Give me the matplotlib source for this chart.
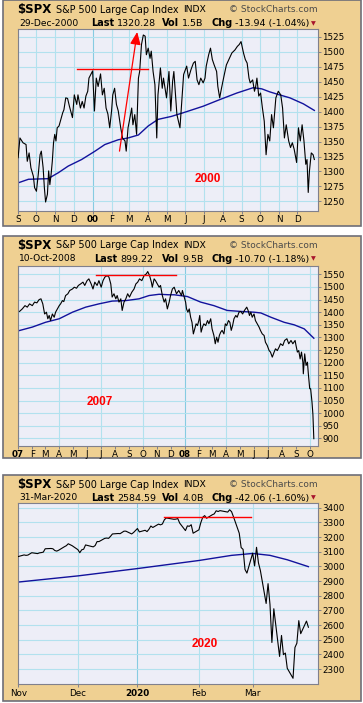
import numpy as np
import pandas as pd
import matplotlib
matplotlib.use('Agg')
import matplotlib.pyplot as plt
from matplotlib.patches import Rectangle
from matplotlib.offsetbox import TextArea, HPacker, AnnotationBbox

plt.rcParams['font.family'] = ['DejaVu Sans']

W, H = 363, 703

# ---------------- data: 1999-2000 ----------------
p1_dates = """1999-09-01 1999-09-04 1999-09-09 1999-09-14 1999-09-16 1999-09-19 1999-09-22 1999-09-26
1999-09-28 1999-10-01 1999-10-04 1999-10-07 1999-10-09 1999-10-12 1999-10-14 1999-10-16 1999-10-19
1999-10-21 1999-10-23 1999-10-25 1999-10-27 1999-10-29 1999-10-31 1999-11-02 1999-11-04 1999-11-07
1999-11-10 1999-11-13 1999-11-15 1999-11-18 1999-11-21 1999-11-24 1999-11-29 1999-12-02 1999-12-06
1999-12-08 1999-12-12 1999-12-15 1999-12-18 1999-12-21 1999-12-24 1999-12-26 1999-12-29 2000-01-01
2000-01-04 2000-01-07 2000-01-10 2000-01-14 2000-01-17 2000-01-20 2000-01-23 2000-01-26 2000-01-29
2000-02-01 2000-02-03 2000-02-06 2000-02-09 2000-02-12 2000-02-16 2000-02-19 2000-02-23 2000-02-25
2000-02-28 2000-03-02 2000-03-05 2000-03-07 2000-03-10 2000-03-13 2000-03-16 2000-03-18 2000-03-21
2000-03-24 2000-03-27 2000-03-29 2000-04-01 2000-04-04 2000-04-06 2000-04-09 2000-04-12 2000-04-15
2000-04-17 2000-04-21 2000-04-24 2000-04-26 2000-05-01 2000-05-05 2000-05-08 2000-05-11 2000-05-13
2000-05-18 2000-05-23 2000-05-26 2000-05-29 2000-06-03 2000-06-06 2000-06-10 2000-06-14 2000-06-17
2000-06-20 2000-06-23 2000-06-26 2000-06-30 2000-07-03 2000-07-05 2000-07-09 2000-07-12 2000-07-15
2000-07-18 2000-07-22 2000-07-24 2000-07-27 2000-07-30 2000-08-03 2000-08-07 2000-08-12 2000-08-16
2000-08-21 2000-08-25 2000-08-28 2000-08-31 2000-09-04 2000-09-07 2000-09-10 2000-09-13 2000-09-15
2000-09-19 2000-09-22 2000-09-24 2000-09-26 2000-09-29 2000-10-02 2000-10-05 2000-10-08 2000-10-11
2000-10-14 2000-10-17 2000-10-20 2000-10-23 2000-10-27 2000-10-31 2000-11-04 2000-11-07 2000-11-10
2000-11-13 2000-11-17 2000-11-20 2000-11-23 2000-11-26 2000-11-30 2000-12-03 2000-12-06 2000-12-09
2000-12-12 2000-12-15 2000-12-17 2000-12-19 2000-12-21 2000-12-24 2000-12-27 2000-12-29""".split()
p1_close = [1323, 1356, 1348, 1345, 1317, 1331, 1306, 1292,
            1273, 1267, 1295, 1328, 1334, 1306, 1273, 1249, 1262,
            1301, 1278, 1295, 1317, 1348, 1362, 1351, 1373, 1376,
            1387, 1398, 1403, 1423, 1422, 1409, 1390, 1428, 1412,
            1428, 1406, 1417, 1406, 1426, 1434, 1456, 1462, 1468,
            1401, 1456, 1442, 1463, 1428, 1439, 1406, 1396, 1373,
            1401, 1428, 1439, 1412, 1401, 1373, 1356, 1351, 1334,
            1373, 1389, 1406, 1378, 1395, 1362, 1456, 1467, 1512,
            1528, 1526, 1495, 1506, 1489, 1501, 1467, 1445, 1356,
            1428, 1473, 1439, 1456, 1423, 1467, 1401, 1451, 1467,
            1395, 1373, 1417, 1462, 1476, 1456, 1470, 1481, 1484,
            1453, 1445, 1456, 1448, 1456, 1476, 1495, 1506, 1487,
            1478, 1467, 1442, 1423, 1439, 1459, 1478, 1489, 1498,
            1503, 1509, 1512, 1517, 1498, 1487, 1481, 1456, 1448,
            1453, 1434, 1442, 1456, 1426, 1431, 1406, 1384, 1328,
            1362, 1351, 1395, 1373, 1423, 1434, 1428, 1406, 1356,
            1378, 1351, 1340, 1348, 1337, 1315, 1373, 1351, 1378,
            1351, 1312, 1320, 1265, 1301, 1331, 1328, 1320]
p1_ma_dates = """1999-09-01 1999-09-18 1999-10-20 1999-11-06 1999-11-22 1999-12-14 2000-01-05 2000-01-21
2000-02-12 2000-02-28 2000-03-16 2000-04-01 2000-04-17 2000-05-09 2000-05-28 2000-06-30 2000-07-27
2000-08-24 2000-09-20 2000-10-04 2000-10-17 2000-11-02 2000-11-19 2000-12-11 2000-12-29""".split()
p1_ma = [1281, 1287, 1288, 1298, 1309, 1320, 1334, 1345,
         1353, 1356, 1361, 1376, 1387, 1392, 1398, 1409, 1420,
         1431, 1440, 1438, 1433, 1428, 1423, 1413, 1402]
p1_res_dates = ['1999-12-07', '2000-03-31']
p1_res_level = 1471
p1_arrow_dates = ['2000-02-14', '2000-03-14']
p1_arrow_vals = [1334, 1533]

# ---------------- data: 2007-2008 ----------------
p2_dates = """2007-01-04 2007-01-10 2007-01-16 2007-01-21 2007-01-26 2007-02-01 2007-02-06 2007-02-11
2007-02-16 2007-02-20 2007-02-24 2007-02-28 2007-03-04 2007-03-07 2007-03-10 2007-03-13 2007-03-17
2007-03-21 2007-03-24 2007-03-28 2007-04-01 2007-04-04 2007-04-08 2007-04-11 2007-04-15 2007-04-20
2007-04-24 2007-04-30 2007-05-04 2007-05-09 2007-05-13 2007-05-18 2007-05-23 2007-05-27 2007-06-01
2007-06-05 2007-06-10 2007-06-14 2007-06-18 2007-06-23 2007-06-27 2007-07-02 2007-07-06 2007-07-10
2007-07-15 2007-07-19 2007-07-23 2007-07-26 2007-07-30 2007-08-03 2007-08-06 2007-08-10 2007-08-14
2007-08-17 2007-08-21 2007-08-25 2007-08-29 2007-09-02 2007-09-07 2007-09-12 2007-09-16 2007-09-20
2007-09-24 2007-09-29 2007-10-04 2007-10-09 2007-10-12 2007-10-16 2007-10-20 2007-10-22 2007-10-26
2007-10-29 2007-11-02 2007-11-06 2007-11-09 2007-11-13 2007-11-17 2007-11-20 2007-11-24 2007-11-28
2007-12-01 2007-12-05 2007-12-09 2007-12-14 2007-12-19 2007-12-25 2007-12-27 2007-12-30 2008-01-03
2008-01-05 2008-01-08 2008-01-11 2008-01-14 2008-01-17 2008-01-20 2008-01-23 2008-01-26 2008-01-29
2008-02-01 2008-02-03 2008-02-06 2008-02-09 2008-02-12 2008-02-16 2008-02-20 2008-02-23 2008-02-27
2008-03-01 2008-03-05 2008-03-08 2008-03-11 2008-03-14 2008-03-17 2008-03-20 2008-03-23 2008-03-27
2008-03-30 2008-04-02 2008-04-06 2008-04-09 2008-04-12 2008-04-15 2008-04-18 2008-04-22 2008-04-25
2008-04-29 2008-05-03 2008-05-07 2008-05-11 2008-05-16 2008-05-19 2008-05-22 2008-05-25 2008-05-28
2008-06-01 2008-06-04 2008-06-08 2008-06-12 2008-06-15 2008-06-19 2008-06-23 2008-06-26 2008-06-30
2008-07-04 2008-07-07 2008-07-11 2008-07-15 2008-07-18 2008-07-22 2008-07-26 2008-07-29 2008-08-03
2008-08-07 2008-08-12 2008-08-16 2008-08-21 2008-08-25 2008-08-30 2008-09-01 2008-09-04 2008-09-07
2008-09-10 2008-09-13 2008-09-16 2008-09-17 2008-09-20 2008-09-23 2008-09-26 2008-09-28 2008-10-01
2008-10-03 2008-10-06 2008-10-08 2008-10-10""".split()
p2_close = [1403, 1413, 1426, 1420, 1433, 1426, 1440, 1437,
            1450, 1453, 1433, 1393, 1400, 1374, 1387, 1367, 1393,
            1380, 1400, 1413, 1426, 1433, 1446, 1442, 1466, 1473,
            1486, 1492, 1499, 1495, 1506, 1512, 1519, 1506, 1525,
            1532, 1512, 1492, 1519, 1506, 1525, 1499, 1525, 1539,
            1545, 1539, 1512, 1460, 1473, 1453, 1466, 1440, 1453,
            1407, 1440, 1453, 1473, 1460, 1479, 1492, 1512, 1519,
            1532, 1525, 1545, 1552, 1561, 1545, 1519, 1499, 1532,
            1525, 1512, 1499, 1506, 1466, 1440, 1453, 1413, 1440,
            1466, 1492, 1499, 1473, 1486, 1466, 1486, 1466, 1440,
            1413, 1400, 1413, 1380, 1360, 1314, 1334, 1354, 1347,
            1367, 1387, 1321, 1341, 1354, 1347, 1367, 1354, 1374,
            1334, 1308, 1275, 1301, 1281, 1308, 1321, 1328, 1314,
            1354, 1347, 1367, 1360, 1328, 1347, 1374, 1387, 1380,
            1400, 1403, 1393, 1407, 1420, 1407, 1387, 1400, 1380,
            1393, 1367, 1354, 1341, 1328, 1314, 1308, 1281, 1268,
            1248, 1242, 1222, 1242, 1255, 1248, 1262, 1275, 1268,
            1288, 1295, 1275, 1288, 1275, 1288, 1268, 1242, 1248,
            1215, 1242, 1202, 1156, 1235, 1189, 1202, 1156, 1097,
            1097, 1044, 995, 899]
p2_ma_dates = """2007-01-03 2007-02-01 2007-03-02 2007-04-01 2007-04-30 2007-05-29 2007-06-27 2007-07-26
2007-08-25 2007-09-23 2007-10-15 2007-11-06 2007-11-28 2007-12-09 2008-01-07 2008-02-05 2008-03-05
2008-04-03 2008-05-03 2008-06-01 2008-06-16 2008-07-08 2008-08-06 2008-08-28 2008-09-19 2008-10-10""".split()
p2_ma = [1327, 1341, 1360, 1374, 1400, 1420, 1433, 1444,
         1446, 1453, 1466, 1471, 1469, 1469, 1462, 1440, 1426,
         1407, 1403, 1400, 1397, 1380, 1360, 1350, 1334, 1297]
p2_res_dates = ['2007-06-20', '2007-12-12']
p2_res_level = 1546

# ---------------- data: 2019-2020 ----------------
p3_dates = """2019-11-01 2019-11-04 2019-11-05 2019-11-06 2019-11-07 2019-11-08 2019-11-11 2019-11-12
2019-11-13 2019-11-14 2019-11-15 2019-11-18 2019-11-19 2019-11-20 2019-11-21 2019-11-22 2019-11-25
2019-11-26 2019-11-27 2019-11-29 2019-12-02 2019-12-03 2019-12-04 2019-12-05 2019-12-06 2019-12-09
2019-12-10 2019-12-11 2019-12-12 2019-12-13 2019-12-16 2019-12-17 2019-12-18 2019-12-19 2019-12-20
2019-12-23 2019-12-24 2019-12-26 2019-12-27 2019-12-30 2019-12-31 2020-01-02 2020-01-03 2020-01-06
2020-01-07 2020-01-08 2020-01-09 2020-01-10 2020-01-13 2020-01-14 2020-01-15 2020-01-16 2020-01-17
2020-01-21 2020-01-22 2020-01-23 2020-01-24 2020-01-27 2020-01-28 2020-01-29 2020-01-30 2020-01-31
2020-02-03 2020-02-04 2020-02-05 2020-02-06 2020-02-07 2020-02-10 2020-02-11 2020-02-12 2020-02-13
2020-02-14 2020-02-18 2020-02-19 2020-02-20 2020-02-21 2020-02-24 2020-02-25 2020-02-26 2020-02-27
2020-02-28 2020-03-02 2020-03-03 2020-03-04 2020-03-05 2020-03-06 2020-03-09 2020-03-10 2020-03-11
2020-03-12 2020-03-13 2020-03-16 2020-03-17 2020-03-18 2020-03-19 2020-03-20 2020-03-23 2020-03-24
2020-03-25 2020-03-26 2020-03-27 2020-03-30 2020-03-31""".split()
p3_close = [3067, 3078, 3075, 3077, 3085, 3093, 3087, 3092,
            3094, 3097, 3120, 3122, 3120, 3108, 3104, 3110, 3134,
            3141, 3154, 3141, 3114, 3093, 3113, 3117, 3146, 3136,
            3133, 3142, 3169, 3169, 3191, 3193, 3191, 3205, 3221,
            3224, 3223, 3240, 3240, 3221, 3231, 3258, 3235, 3246,
            3237, 3253, 3275, 3265, 3288, 3283, 3289, 3317, 3330,
            3321, 3322, 3326, 3295, 3244, 3276, 3273, 3284, 3226,
            3249, 3298, 3335, 3346, 3328, 3352, 3358, 3379, 3374,
            3380, 3370, 3386, 3373, 3338, 3226, 3128, 3116, 2979,
            2954, 3090, 3003, 3130, 3024, 2972, 2747, 2882, 2741,
            2481, 2711, 2386, 2529, 2398, 2409, 2305, 2237, 2447,
            2476, 2630, 2541, 2627, 2585]
p3_ma_dates = """2019-11-01 2019-12-02 2020-01-02 2020-02-03 2020-02-20 2020-03-02 2020-03-11 2020-03-20
2020-03-31""".split()
p3_ma = [2893, 2935, 2985, 3040, 3075, 3088, 3075, 3045, 2998]
p3_res_dates = ['2020-01-16', '2020-03-01']
p3_res_level = 3335

# tick labels
p1_months = pd.date_range('1999-09-01', '2000-12-01', freq='MS')
p1_labels = ['S', 'O', 'N', 'D', '00', 'F', 'M', 'A', 'M', 'J', 'J', 'A', 'S', 'O', 'N', 'D']
p2_months = pd.date_range('2007-01-01', '2008-10-01', freq='MS')
p2_labels = ['07', 'F', 'M', 'A', 'M', 'J', 'J', 'A', 'S', 'O', 'N', 'D',
             '08', 'F', 'M', 'A', 'M', 'J', 'J', 'A', 'S', 'O']
p3_months = pd.to_datetime(['2019-11-01', '2019-12-02', '2020-01-02', '2020-02-03', '2020-03-02'])
p3_labels = ['Nov', 'Dec', '2020', 'Feb', 'Mar']
year_labels = ['00', '07', '08', '2020']

headers = [
    ('29-Dec-2000', '1320.28', '1.5B', '-13.94 (-1.04%)'),
    ('10-Oct-2008', '899.22', '9.5B', '-10.70 (-1.18%)'),
    ('31-Mar-2020', '2584.59', '4.0B', '-42.06 (-1.60%)'),
]

TAN = '#EFD092'
FACE = '#EDEEF7'
GRID = '#B2E1EE'
GRID_DARK = '#86CBE2'
BORDER = '#6E6E78'
SPINE = '#80808C'


def fx(x):
    return x / W


def fy(y):
    return 1 - y / H


def d64(s):
    return np.array(s, dtype='datetime64[m]')


fig = plt.figure(figsize=(W / 100, H / 100), dpi=100)
fig.patch.set_facecolor('white')

panels = [
    dict(box=(0.5, 225.5), plot=(29, 211), dates=p1_dates, close=p1_close,
         ma_dates=p1_ma_dates, ma=p1_ma, res_dates=p1_res_dates, res=p1_res_level,
         xlim=('1999-08-31T20:00', '2001-01-04T00:00'), ylim=(1234, 1538),
         yticks=np.arange(1250, 1526, 25), months=p1_months, labels=p1_labels,
         vgrid=p1_months, tag='2000', tag_pos=(0.633, 0.177), xpad=0.6),
    dict(box=(236, 457.5), plot=(266, 446), dates=p2_dates, close=p2_close,
         ma_dates=p2_ma_dates, ma=p2_ma, res_dates=p2_res_dates, res=p2_res_level,
         xlim=('2006-12-31T16:00', '2008-10-19T04:00'), ylim=(870, 1583),
         yticks=np.arange(900, 1551, 50), months=p2_months, labels=p2_labels,
         vgrid=p2_months[::3], tag='2007', tag_pos=(0.271, 0.244), xpad=0.8),
    dict(box=(475, 700.5), plot=(503, 684), dates=p3_dates, close=p3_close,
         ma_dates=p3_ma_dates, ma=p3_ma, res_dates=p3_res_dates, res=p3_res_level,
         xlim=('2019-10-31T20:00', '2020-04-05T00:00'), ylim=(2198, 3432),
         yticks=np.arange(2300, 3401, 100), months=p3_months, labels=p3_labels,
         vgrid=p3_months[1:], tag='2020', tag_pos=(0.623, 0.221), xpad=1.8),
]

for i, p in enumerate(panels):
    top, bot = p['box']
    fig.add_artist(Rectangle((fx(2.5), fy(bot)), fx(361) - fx(2.5), fy(top) - fy(bot),
                             transform=fig.transFigure, facecolor=TAN,
                             edgecolor=BORDER, lw=1.2, zorder=-1))

    # header
    date, last, vol, chg = headers[i]
    y1 = top + 9.5
    y2 = top + 22.7
    fig.text(fx(17.5), fy(y1), '$SPX', fontsize=8.5, fontweight='bold', va='center')
    fig.text(fx(56), fy(y1), 'S&P 500 Large Cap Index', fontsize=6.9, va='center')
    fig.text(fx(183.5), fy(y1), 'INDX', fontsize=6.7, va='center')
    fig.text(fx(229), fy(y1), '\u00a9 StockCharts.com', fontsize=6.5, va='center', color='#4A4A4A')
    fig.text(fx(19), fy(y2), date, fontsize=6.6, va='center')
    for lab, val, xpos, align in [('Last', last, 123.3, 0.5), ('Vol', vol, 162, 0.0),
                                  ('Chg', chg, 211, 0.0)]:
        box = HPacker(children=[TextArea(lab, textprops=dict(fontsize=7, fontweight='bold')),
                                TextArea(val, textprops=dict(fontsize=6.8))],
                      align='baseline', pad=0, sep=2.2)
        fig.add_artist(AnnotationBbox(box, (fx(xpos), fy(y2)), xycoords='figure fraction',
                                      frameon=False, box_alignment=(align, 0.5), pad=0))
    fig.text(fx(313.5), fy(y2 + 0.5), '\u25bc', fontsize=4.5, color='#A8142C',
             ha='center', va='center')

    # chart
    ptop, pbot = p['plot']
    ax = fig.add_axes([fx(18), fy(pbot), fx(318) - fx(18), fy(ptop) - fy(pbot)])
    ax.set_facecolor(FACE)
    ax.set_xlim(d64(p['xlim'][0]), d64(p['xlim'][1]))
    ax.set_ylim(*p['ylim'])
    ax.set_axisbelow(True)
    ax.grid(axis='y', color=GRID, lw=0.8)
    for m in p['vgrid']:
        ax.axvline(m, color=GRID_DARK if m.month == 1 else GRID, lw=0.8, zorder=0.5)

    ax.plot(d64(p['ma_dates']), p['ma'], color='#12129C', lw=1.0, zorder=2)
    ax.plot(d64(p['dates']), p['close'], color='black', lw=0.8, zorder=3)
    ax.plot(d64(p['res_dates']), [p['res'], p['res']], color='red', lw=1.0, zorder=4)
    if i == 0:
        a = d64(p1_arrow_dates)
        ax.annotate('', xy=(a[1], p1_arrow_vals[1]), xytext=(a[0], p1_arrow_vals[0]),
                    arrowprops=dict(arrowstyle='-|>,head_length=0.75,head_width=0.32',
                                    color='red', lw=0.9, shrinkA=0, shrinkB=0),
                    zorder=5)

    ax.text(p['tag_pos'][0], p['tag_pos'][1], p['tag'], transform=ax.transAxes,
            color='red', fontsize=8.5, fontweight='bold', family='Liberation Sans',
            ha='center', va='center')

    ax.yaxis.tick_right()
    ax.set_yticks(p['yticks'])
    ax.set_xticks(p['months'])
    ax.set_xticklabels(p['labels'])
    for lbl in ax.get_xticklabels():
        if lbl.get_text() in year_labels:
            lbl.set_fontweight('bold')
            lbl.set_fontsize(7)
    ax.tick_params(axis='y', direction='out', length=2.5, width=0.7, color=SPINE,
                   labelsize=6.3, pad=0.6)
    ax.tick_params(axis='x', direction='out', length=2, width=0.7, color=SPINE,
                   labelsize=6.3, pad=p['xpad'])
    for s in ax.spines.values():
        s.set_color(SPINE)
        s.set_linewidth(0.8)

fig.savefig('out.png', dpi=100, facecolor='white')
